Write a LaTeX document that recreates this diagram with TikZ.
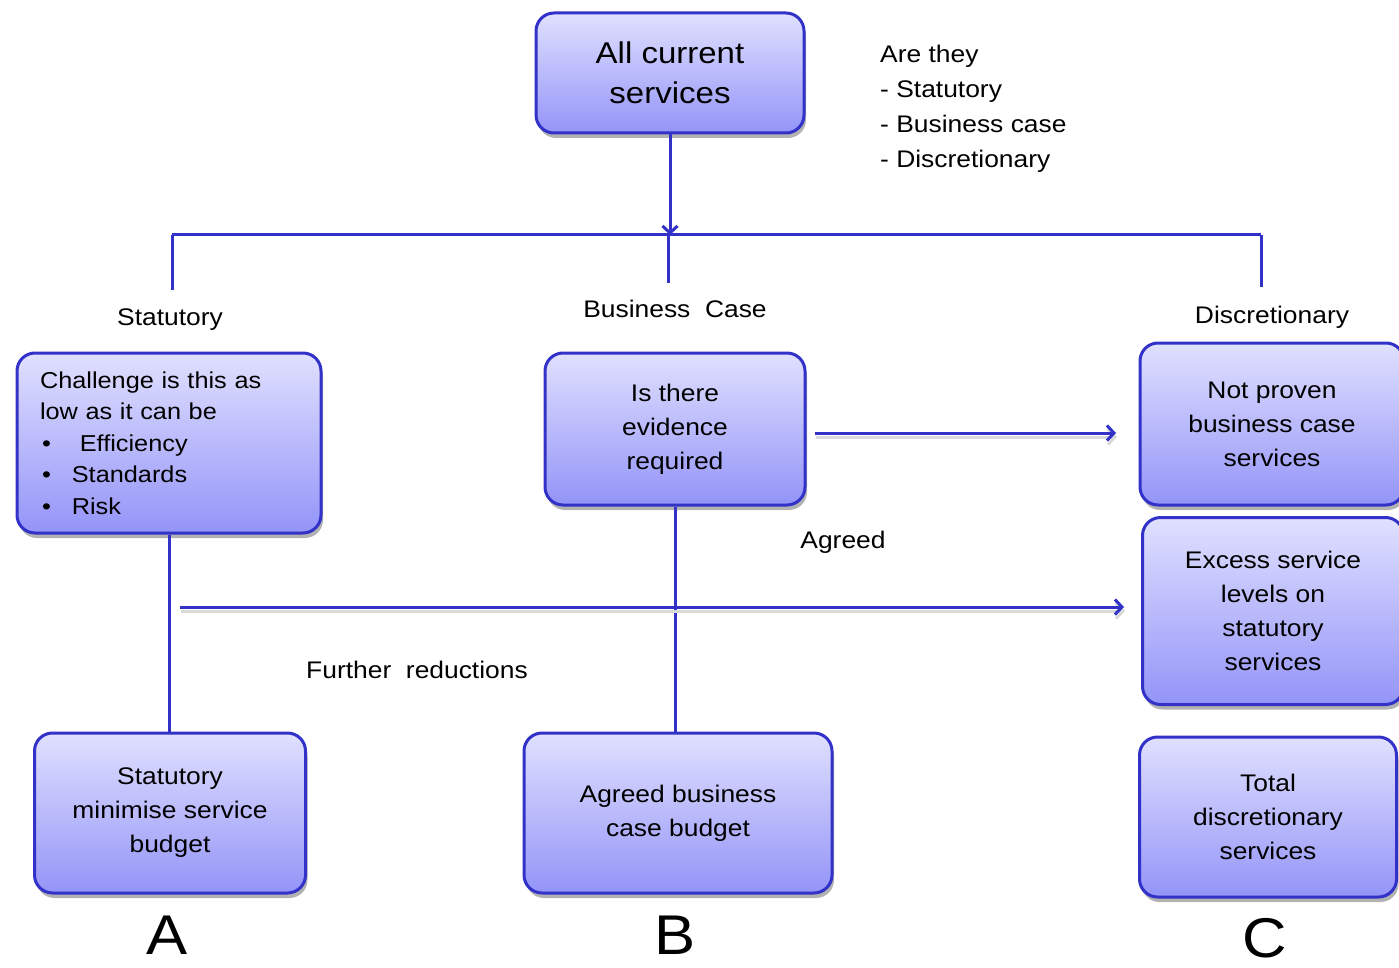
\documentclass[tikz,border=0pt]{standalone}
\usepackage{fontspec}
\setmainfont{Liberation Sans}[FakeStretch=1.1]
\usetikzlibrary{arrows.meta,shadows}
\definecolor{boxline}{RGB}{50,50,200}
\definecolor{boxtop}{RGB}{224,224,255}
\definecolor{boxbottom}{RGB}{148,148,248}
\begin{document}
\begin{tikzpicture}[x=1pt,y=-1pt,>={Straight Barb[length=7pt,width=15pt]},
	box/.style={draw=boxline,line width=3pt,rounded corners=18pt,top color=boxtop,bottom color=boxbottom,
		drop shadow={shadow xshift=2pt,shadow yshift=-5pt,opacity=0.3,fill=black},
		align=center,inner sep=0pt,font=\fontsize{24}{34}\selectfont},
	link/.style={draw=boxline,line width=3pt},
	shade/.style={preaction={draw=black!15,line width=3pt,transform canvas={xshift=1pt,yshift=-4pt}}},
	lbl/.style={font=\fontsize{24}{34}\selectfont},
	letter/.style={font=\fontsize{56}{60}\selectfont}]
		\useasboundingbox (0,0) rectangle (1399,968);
		% Top box
		\node[box,minimum width=268pt,minimum height=120pt,font=\fontsize{30}{40}\selectfont] (allsrv) at (670,73) {All current\\services};
		\node[lbl,anchor=north west,align=left,inner sep=0pt,font=\fontsize{24}{35}\selectfont] (arethey) at (880,45) {Are they\\- Statutory\\- Business case\\- Discretionary};
		% Split bar
		\coordinate (barmid) at (670,235);
		\coordinate (barL) at (172,235);
		\coordinate (barR) at (1261,235);
		\coordinate (dropL) at (172,290);
		\coordinate (dropM) at (668,283);
		\coordinate (dropR) at (1261,287);
		\draw[link,->] (allsrv.south) -- (barmid);
		\draw[link] (barL) -- (barR);
		\draw[link] (barL) -- (dropL);
		\draw[link] (barmid -| dropM) -- (dropM);
		\draw[link] (barR) -- (dropR);
		% Headings
		\node[lbl] (hstat) at (170,320) {Statutory};
		\node[lbl] (hbus) at (675,309) {Business\ \ Case};
		\node[lbl] (hdisc) at (1272,317) {Discretionary};
		% Statutory column
		\node[box,minimum width=304pt,minimum height=180pt,text width=258pt,align=left,font=\fontsize{23}{31.5}\selectfont] (challenge) at (169,443)
			{Challenge is this as\\low as it can be\\\hspace*{2pt}\textbullet\hspace{29pt}Efficiency\\\hspace*{2pt}\textbullet\hspace{21pt}Standards\\\hspace*{2pt}\textbullet\hspace{21pt}Risk};
		\node[box,minimum width=271pt,minimum height=160pt] (statbud) at (170,813) {Statutory\\minimise service\\budget};
		\draw[link] (challenge.south) -- (challenge.south |- statbud.north);
		% Business case column
		\node[box,minimum width=260pt,minimum height=152pt] (evidence) at (675,429) {Is there\\evidence\\required};
		\node[box,minimum width=308pt,minimum height=160pt] (agreedbud) at (678,813) {Agreed business\\case budget};
		\draw[link] (evidence.south) -- (evidence.south |- agreedbud.north);
		% Discretionary column
		\node[box,minimum width=264pt,minimum height=162pt] (notproven) at (1272,424) {Not proven\\business case\\services};
		\node[box,minimum width=261pt,minimum height=187pt] (excess) at (1273,611) {Excess service\\levels on\\statutory\\services};
		\node[box,minimum width=257pt,minimum height=160pt] (totaldisc) at (1268,817) {Total\\discretionary\\services};
		% Arrows across
		\coordinate (evout) at (815,433);
		\coordinate (npin) at (1116,433);
		\coordinate (redout) at (180,607);
		\coordinate (exin) at (1124,607);
		\draw[link,shade,->] (evout) -- (npin);
		\draw[link,shade,->] (redout) -- (exin);
		\node[lbl] (agreed) at (843,542) {Agreed};
		\node[lbl] (further) at (417,670) {Further\ \ reductions};
		% Column letters
		\node[letter] (la) at (167,935) {A};
		\node[letter] (lb) at (675,935) {B};
		\node[letter] (lc) at (1265,938) {C};
\end{tikzpicture}
\end{document}
